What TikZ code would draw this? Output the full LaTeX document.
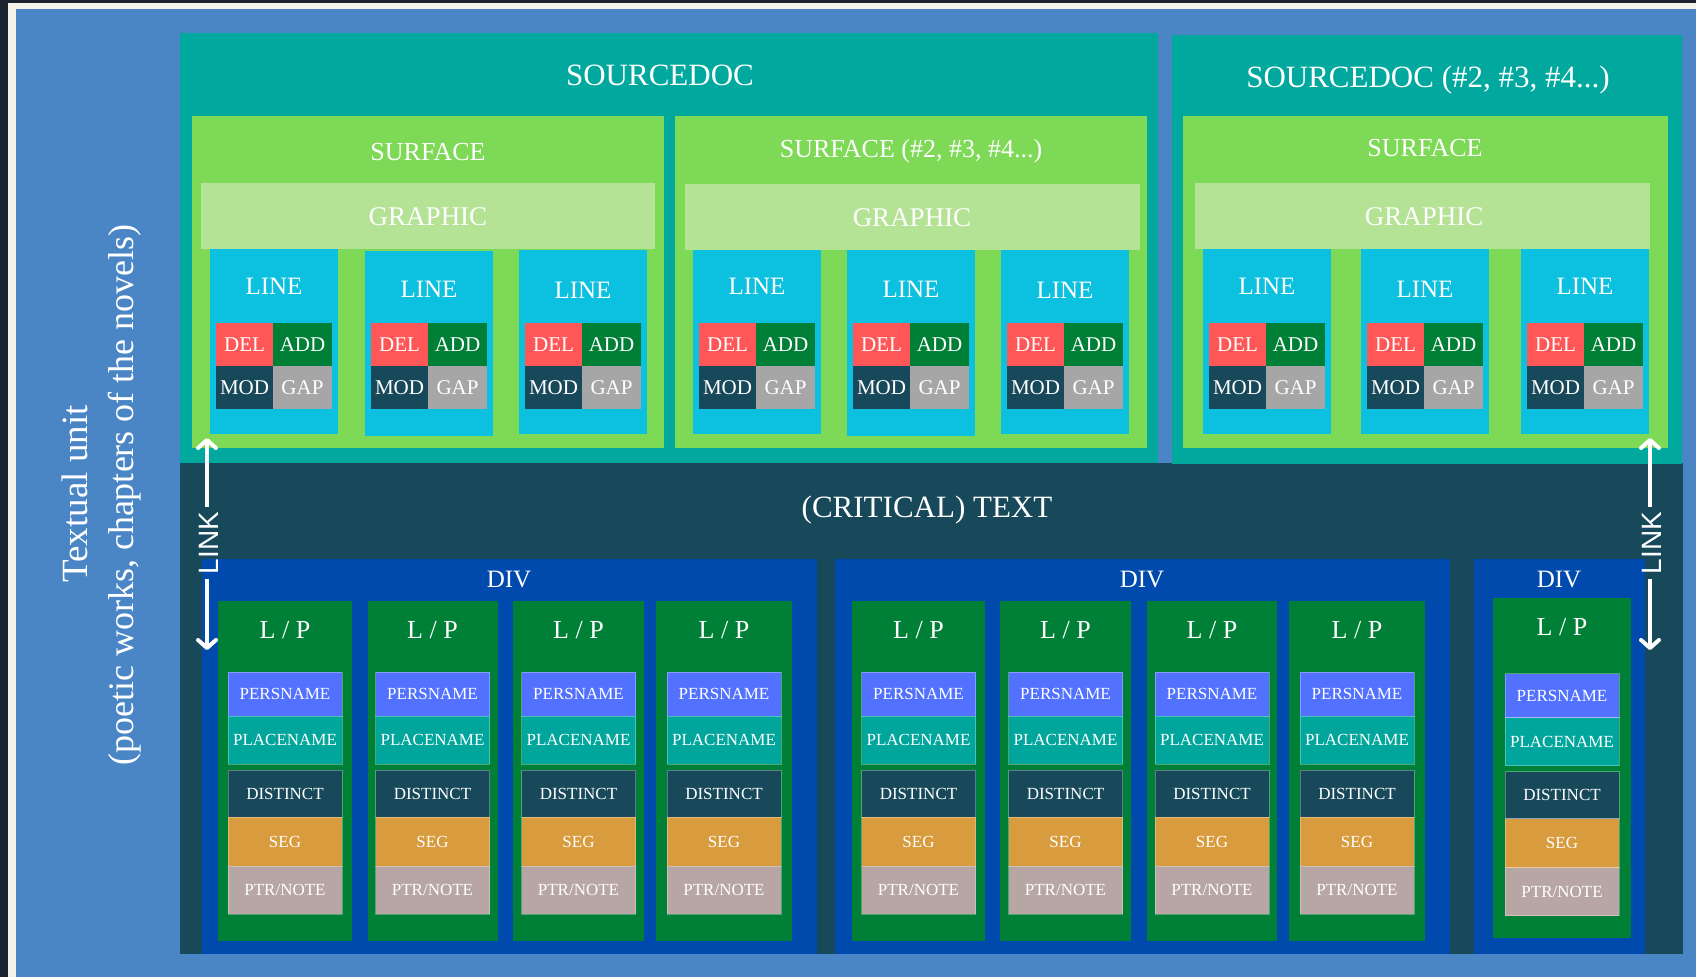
\documentclass[tikz,border=0pt]{standalone}
\usepackage{fontspec}
\setmainfont{Liberation Serif}
\newfontfamily\linkfont{Liberation Sans}
\usetikzlibrary{arrows.meta}
\definecolor{framec}{HTML}{1C2130}
\definecolor{creamc}{HTML}{F4F1E6}
\definecolor{bgc}{HTML}{4A86C5}
\definecolor{tealc}{HTML}{00A89E}
\definecolor{surfc}{HTML}{7ED957}
\definecolor{graphc}{HTML}{B5E395}
\definecolor{linec}{HTML}{0CC0DF}
\definecolor{delc}{HTML}{FF5757}
\definecolor{addc}{HTML}{008037}
\definecolor{modc}{HTML}{17495A}
\definecolor{gapc}{HTML}{A6A6A6}
\definecolor{critc}{HTML}{17495A}
\definecolor{divc}{HTML}{004AAD}
\definecolor{lpc}{HTML}{008037}
\definecolor{persc}{HTML}{5271FF}
\definecolor{placec}{HTML}{00A69C}
\definecolor{distc}{HTML}{17495A}
\definecolor{segc}{HTML}{D89B3D}
\definecolor{ptrc}{HTML}{B7A6A4}
\tikzset{
  blk/.style={rectangle, inner sep=0pt, outer sep=0pt, draw=none},
  lbl/.style={text=white, inner sep=0pt, outer sep=0pt, anchor=base},
  stackcell/.style={draw=white, draw opacity=0.3, line width=0.8pt},
  linkarrow/.style={draw=white, line width=4pt, -{Straight Barb[length=8pt,width=18pt,round]}},
  linklabel/.style={text=white, font=\linkfont\fontsize{28}{28}\selectfont, rotate=90, inner sep=0pt, text height=20pt, text depth=0pt},
}
% name, colour, x1, y1, x2, y2
\newcommand\blk[6]{\node[blk, fill=#2, minimum width={(#5-#3)*1pt}, minimum height={(#6-#4)*1pt}] (#1) at ({(#3+#5)/2},{(#4+#6)/2}) {};}
% name, colour, x1, y1, x2, y2, font size, text, extra style
\newcommand\cellt[9]{\node[blk, fill=#2, text=white, minimum width={(#5-#3)*1pt}, minimum height={(#6-#4)*1pt}, font=\fontsize{#7}{#7}\selectfont, text height={0.66*#7pt}, text depth=0pt, #9] (#1) at ({(#3+#5)/2},{(#4+#6)/2}) {#8};}
% name, x, y(baseline), size, text
\newcommand\lab[5]{\node[lbl, font=\fontsize{#4}{#4}\selectfont] (#1) at (#2,#3) {#5};}
\begin{document}
\begin{tikzpicture}[x=1pt,y=-1pt]
\useasboundingbox (0,0) rectangle (1696,977);
% background frame
\blk{frame}{framec}{0}{0}{1696}{977}
\blk{cream}{creamc}{8}{3}{1696}{977}
\blk{bg}{bgc}{16}{9}{1696}{977}
% vertical title
\node[lbl, font=\fontsize{37}{37}\selectfont, rotate=90] (tu1) at (87,494) {Textual unit};
\node[lbl, font=\fontsize{36}{36}\selectfont, rotate=90] (tu2) at (133,495) {(poetic works, chapters of the novels)};
% critical text
\blk{crit}{critc}{180}{463}{1683}{954}
% source docs
\blk{sd1}{tealc}{180}{33}{1158}{463}
\blk{sd2}{tealc}{1172}{35}{1682}{464}
\lab{sd1t}{660}{85}{31}{SOURCEDOC}
\lab{sd2t}{1428}{87}{31}{SOURCEDOC (\#2, \#3, \#4...)}
% surfaces
\blk{s1}{surfc}{192}{116}{664}{448}
\blk{s2}{surfc}{675}{116}{1147}{448}
\blk{s3}{surfc}{1183}{116}{1668}{448}
\lab{s1t}{428}{160}{26}{SURFACE}
\lab{s2t}{911}{157}{26}{SURFACE (\#2, \#3, \#4...)}
\lab{s3t}{1425}{156}{26}{SURFACE}
% graphics
\blk{g1}{graphc}{201}{183}{655}{249}
\blk{g2}{graphc}{685}{184}{1140}{250}
\blk{g3}{graphc}{1195}{183}{1650}{249}
\lab{g1t}{428}{225}{27}{GRAPHIC}
\lab{g2t}{912}{226}{27}{GRAPHIC}
\lab{g3t}{1424}{225}{27}{GRAPHIC}
% lines
\foreach \n/\x/\ya/\yb/\bl in {1a/210/249/434/294, 1b/365/251/436/297, 1c/519/250/434/298, 2a/693/250/434/294, 2b/847/250/436/297, 2c/1001/250/434/298, 3a/1203/249/434/294, 3b/1361/249/434/297, 3c/1521/249/434/294}{
  \pgfmathsetmacro\xb{\x+128}
  \pgfmathsetmacro\cx{\x+64}
  \pgfmathsetmacro\ga{\x+6}
  \pgfmathsetmacro\gb{\x+63}
  \pgfmathsetmacro\gc{\x+122}
  \blk{line\n}{linec}{\x}{\ya}{\xb}{\yb}
  \lab{linet\n}{\cx}{\bl}{25}{LINE}
  \cellt{del\n}{delc}{\ga}{323}{\gb}{366}{21}{DEL}{}
  \cellt{add\n}{addc}{\gb}{323}{\gc}{366}{21}{ADD}{}
  \cellt{mod\n}{modc}{\ga}{366}{\gb}{409}{21}{MOD}{}
  \cellt{gap\n}{gapc}{\gb}{366}{\gc}{409}{21}{GAP}{}
}
\lab{critt}{927}{517}{31}{(CRITICAL) TEXT}
% divs
\blk{div1}{divc}{201.5}{559}{817}{954}
\blk{div2}{divc}{835}{559}{1450}{954}
\blk{div3}{divc}{1474}{559}{1645}{954}
\lab{div1t}{509}{587}{25}{DIV}
\lab{div2t}{1142}{587}{25}{DIV}
\lab{div3t}{1559}{587}{25}{DIV}
% L/P columns
\foreach \n/\xa/\xb/\ya/\yb/\off in {1/218/352/601/941/0, 2/367.5/497.5/601/941/0, 3/513/644/601/941/0, 4/656/792/601/941/0, 5/852/985/601/941/0, 6/1000/1131/601/941/0, 7/1147/1277/601/941/0, 8/1289/1425/601/941/0, 9/1493/1631/598/938/1.5}{
  \pgfmathsetmacro\cx{(\xa+\xb)/2}
  \pgfmathsetmacro\sa{\cx-57}
  \pgfmathsetmacro\sb{\cx+57}
  \pgfmathsetmacro\bl{\ya+37}
  \pgfmathsetmacro\ra{672+\off}
  \pgfmathsetmacro\rb{716+\off}
  \pgfmathsetmacro\rc{764+\off}
  \pgfmathsetmacro\rd{770+\off}
  \pgfmathsetmacro\re{817+\off}
  \pgfmathsetmacro\rf{866+\off}
  \pgfmathsetmacro\rg{914+\off}
  \blk{lp\n}{lpc}{\xa}{\ya}{\xb}{\yb}
  \lab{lpt\n}{\cx}{\bl}{26}{L / P}
  \cellt{pers\n}{persc}{\sa}{\ra}{\sb}{\rb}{17}{PERSNAME}{stackcell}
  \cellt{place\n}{placec}{\sa}{\rb}{\sb}{\rc}{17}{PLACENAME}{stackcell}
  \cellt{dist\n}{distc}{\sa}{\rd}{\sb}{\re}{17}{DISTINCT}{stackcell}
  \cellt{seg\n}{segc}{\sa}{\re}{\sb}{\rf}{17}{SEG}{stackcell}
  \cellt{ptr\n}{ptrc}{\sa}{\rf}{\sb}{\rg}{17}{PTR/NOTE}{stackcell}
}
% LINK arrows
\coordinate (lLtop) at (207,438);
\coordinate (lLbot) at (207,650);
\coordinate (lRtop) at (1650,438);
\coordinate (lRbot) at (1650,650);
\node[linklabel, inner xsep=5pt] (linkL) at (208.5,543) {LINK};
\node[linklabel, inner xsep=5pt] (linkR) at (1651,543) {LINK};
\draw[linkarrow] (linkL.east -| lLtop) -- (lLtop);
\draw[linkarrow] (linkL.west -| lLbot) -- (lLbot);
\draw[linkarrow] (linkR.east -| lRtop) -- (lRtop);
\draw[linkarrow] (linkR.west -| lRbot) -- (lRbot);
\end{tikzpicture}
\end{document}
